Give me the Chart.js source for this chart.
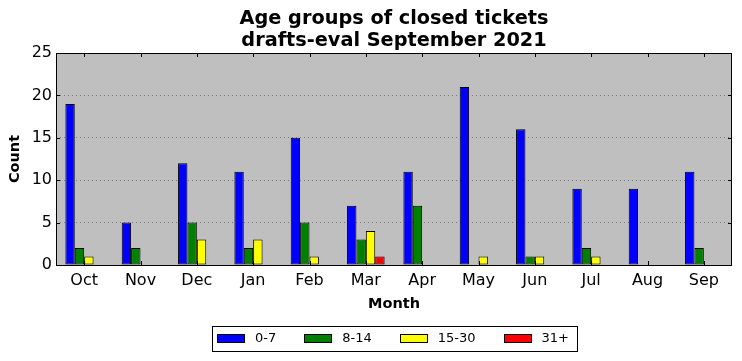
<!DOCTYPE html>
<html>
<head>
<meta charset="utf-8">
<script src="https://cdn.jsdelivr.net/npm/chart.js@4/dist/chart.umd.min.js"></script>
<style>
  html, body { margin: 0; padding: 0; background: #ffffff; }
  #c { display: block; }
</style>
</head>
<body>
<canvas id="c" width="742" height="361"></canvas>
<script>
const titleLines = ["Age groups of closed tickets", "drafts-eval September 2021"];
const months = ["Oct", "Nov", "Dec", "Jan", "Feb", "Mar", "Apr", "May", "Jun", "Jul", "Aug", "Sep"];
const seriesNames = ["0-7", "8-14", "15-30", "31+"];
const age0to7 = [19, 5, 12, 11, 15, 7, 11, 21, 16, 9, 9, 11];
const age8to14 = [2, 2, 5, 2, 5, 3, 7, 0, 1, 2, 0, 2];
const age15to30 = [1, 0, 3, 3, 1, 4, 0, 1, 1, 1, 0, 0];
const age31plus = [0, 0, 0, 0, 0, 1, 0, 0, 0, 0, 0, 0];
const seriesColors = ["#0000ff", "#008000", "#ffff00", "#ff0000"];
const yTicks = [0, 5, 10, 15, 20, 25];

const FONT = "'DejaVu Sans', sans-serif";

const mplPlugin = {
  id: 'mplStyle',
  beforeDraw(chart) {
    const {ctx, chartArea: a} = chart;
    ctx.save();
    ctx.fillStyle = '#ffffff';
    ctx.fillRect(0, 0, chart.width, chart.height);
    ctx.fillStyle = '#bfbfbf';
    ctx.fillRect(a.left, a.top, a.right - a.left, a.bottom - a.top);
    ctx.restore();
  },
  afterDraw(chart) {
    const {ctx, chartArea: a} = chart;
    const xs = chart.scales.x, ys = chart.scales.y;
    ctx.save();
    // frame
    ctx.strokeStyle = '#000000';
    ctx.lineWidth = 1;
    ctx.strokeRect(Math.round(a.left) + 0.5, Math.round(a.top) + 0.5,
                   Math.round(a.right - a.left) - 1, Math.round(a.bottom - a.top));
    // inward ticks
    const tl = 4;
    ctx.beginPath();
    xs.ticks.forEach((t, i) => {
      const px = Math.round(xs.getPixelForTick(i)) + 0.5;
      ctx.moveTo(px, a.top); ctx.lineTo(px, a.top + tl);
      ctx.moveTo(px, a.bottom); ctx.lineTo(px, a.bottom - tl);
    });
    ys.ticks.forEach((t, i) => {
      const py = Math.round(ys.getPixelForTick(i)) + 0.5;
      ctx.moveTo(a.left, py); ctx.lineTo(a.left + tl, py);
      ctx.moveTo(a.right, py); ctx.lineTo(a.right - tl, py);
    });
    ctx.stroke();

    // title
    const cx = (a.left + a.right) / 2;
    ctx.fillStyle = '#000000';
    ctx.font = "bold 19.3px " + FONT;
    ctx.textAlign = 'center';
    ctx.textBaseline = 'middle';
    ctx.fillText(titleLines[0], cx, 19);
    ctx.fillText(titleLines[1], cx, 41);

    // legend
    ctx.font = "13px " + FONT;
    const ds = chart.data.datasets;
    const handleW = 28, handleH = 9, gapText = 10, gapItem = 28, padL = 5, padR = 8;
    const widths = ds.map(d => ctx.measureText(d.label).width);
    let total = padL;
    widths.forEach((w, i) => { total += handleW + gapText + w + (i < ds.length - 1 ? gapItem : 0); });
    total += padR;
    const fLeft = Math.round(cx - total / 2) + 0.5;
    const fTop = 326.5, fH = 25;
    ctx.lineWidth = 1;
    ctx.strokeStyle = '#000000';
    ctx.strokeRect(fLeft, fTop, Math.round(total), fH);
    let x = fLeft + padL - 0.5;
    ctx.textAlign = 'left';
    ds.forEach((d, i) => {
      ctx.fillStyle = d.backgroundColor;
      ctx.fillRect(Math.round(x), 334, handleW, handleH);
      ctx.strokeStyle = '#000000';
      ctx.strokeRect(Math.round(x) + 0.5, 334.5, handleW - 1, handleH - 1);
      ctx.fillStyle = '#000000';
      ctx.fillText(d.label, x + handleW + gapText, 339);
      x += handleW + gapText + widths[i] + gapItem;
    });
    ctx.restore();
  }
};

const seriesData = [age0to7, age8to14, age15to30, age31plus];

new Chart(document.getElementById('c'), {
  type: 'bar',
  data: {
    labels: months,
    datasets: seriesNames.map((n, i) => ({
      label: n,
      data: seriesData[i],
      backgroundColor: seriesColors[i],
      borderColor: '#000000',
      borderWidth: 1,
      borderSkipped: false,
      inflateAmount: 0,
      categoryPercentage: 0.667,
      barPercentage: 1.0
    }))
  },
  options: {
    responsive: false,
    animation: false,
    devicePixelRatio: 1,
    layout: { padding: { top: 53, left: 0, right: 10, bottom: 0 } },
    plugins: {
      legend: { display: false },
      title: { display: false },
      tooltip: { enabled: false }
    },
    scales: {
      x: {
        grid: { display: false, drawTicks: false },
        border: { display: false },
        ticks: { color: '#000000', font: { family: FONT, size: 16 }, padding: 6, maxRotation: 0 },
        title: { display: true, text: 'Month', color: '#000000', font: { family: FONT, size: 14.5, weight: 'bold' }, padding: { top: 0, bottom: 48 } },
        afterFit(s) { s.height = 96; }
      },
      y: {
        min: 0, max: 25,
        afterBuildTicks(s) { s.ticks = yTicks.map(v => ({ value: v })); },
        grid: {
          drawTicks: false,
          color: ctx => (ctx.tick && (ctx.tick.value === 0 || ctx.tick.value === 25)) ? 'rgba(0,0,0,0)' : '#7a7a7a',
          lineWidth: 1
        },
        border: { display: false, dash: [1, 3] },
        ticks: { color: '#000000', font: { family: FONT, size: 16 }, padding: 4 },
        title: { display: true, text: 'Count', color: '#000000', font: { family: FONT, size: 14.5, weight: 'bold' }, padding: { top: 7, bottom: 0 } },
        afterFit(s) { s.width = 56; }
      }
    }
  },
  plugins: [mplPlugin]
});
</script>
</body>
</html>
